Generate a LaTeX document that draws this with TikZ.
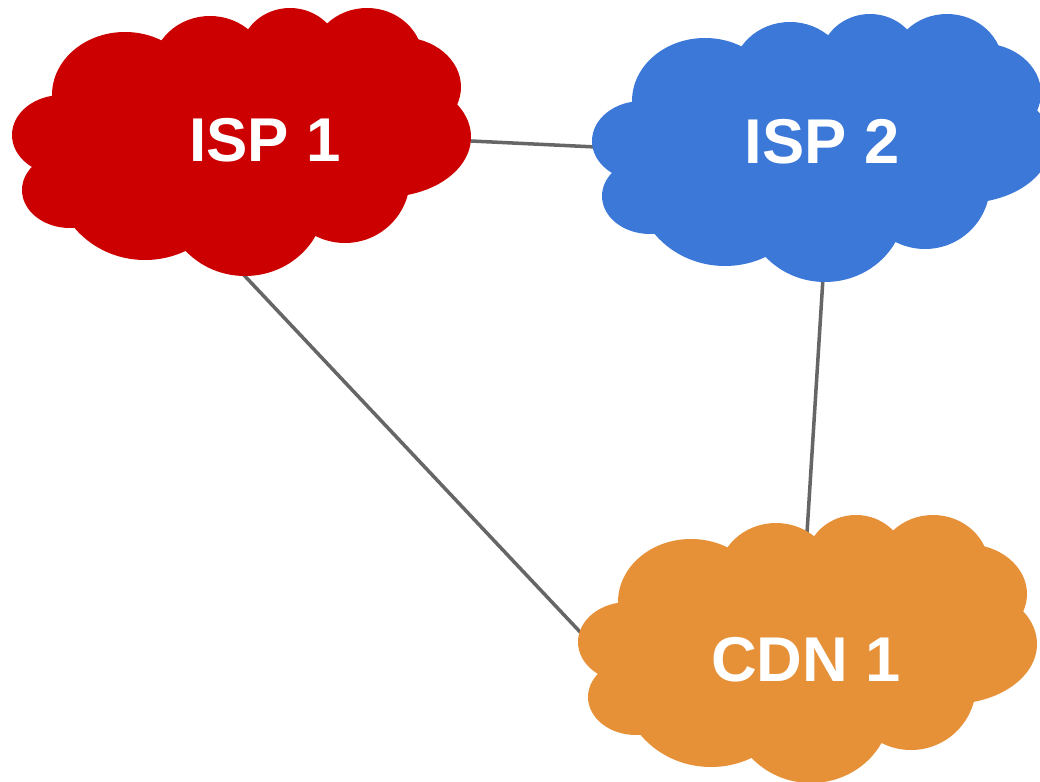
\documentclass[tikz,border=0pt]{standalone}
\usepackage{fontspec}
\setmainfont{Liberation Sans}
\definecolor{ispred}{HTML}{CC0000}
\definecolor{ispblue}{HTML}{3C78D8}
\definecolor{cdnorange}{HTML}{E69138}
\definecolor{linkgray}{HTML}{666666}
\newcommand{\cloudblobs}[3]{%
	\fill[#1, shift={(#2,#3)}]
		(62,135) ellipse [x radius=50, y radius=40]
		(70,190) ellipse [x radius=48, y radius=38]
		(125,95) ellipse [x radius=73, y radius=63]
		(210,70) ellipse [x radius=58, y radius=54]
		(290,55) ellipse [x radius=50, y radius=47]
		(367,60) ellipse [x radius=56, y radius=52]
		(400,87) ellipse [x radius=61, y radius=50]
		(385,137) ellipse [x radius=86, y radius=60]
		(345,178) ellipse [x radius=65, y radius=65]
		(245,200) ellipse [x radius=80, y radius=76]
		(145,175) ellipse [x radius=90, y radius=85]
		(260,140) ellipse [x radius=150, y radius=90];
}
\begin{document}
\begin{tikzpicture}[
	x=0.025cm, y=-0.025cm,
	lbl/.style={text=white, font=\fontsize{44}{50}\selectfont\bfseries, inner sep=0pt},
	lblbig/.style={lbl, font=\fontsize{45}{50}\selectfont\bfseries},
	link/.style={draw=linkgray, line width=2.5pt}
]
	\clip (0, 0) rectangle (1040, 782);
	\useasboundingbox (0, 0) rectangle (1040, 782);

	\coordinate (A) at (471, 141);
	\coordinate (B) at (242, 273);
	\coordinate (C) at (596, 147);
	\coordinate (D) at (823, 278);
	\coordinate (E) at (582, 634);
	\coordinate (F) at (807, 533);

	\draw[link] (A) -- (C);
	\draw[link] (B) -- (E);
	\draw[link] (D) -- (F);

	\cloudblobs{ispred}{0}{0}
	\cloudblobs{ispblue}{580}{6}
	\cloudblobs{cdnorange}{566}{507}

	\node[lbl] (isp1) at (265, 140) {ISP 1};
	\node[lblbig] (isp2) at (822, 142) {ISP 2};
	\node[lblbig] (cdn1) at (806, 660) {CDN 1};
\end{tikzpicture}
\end{document}
